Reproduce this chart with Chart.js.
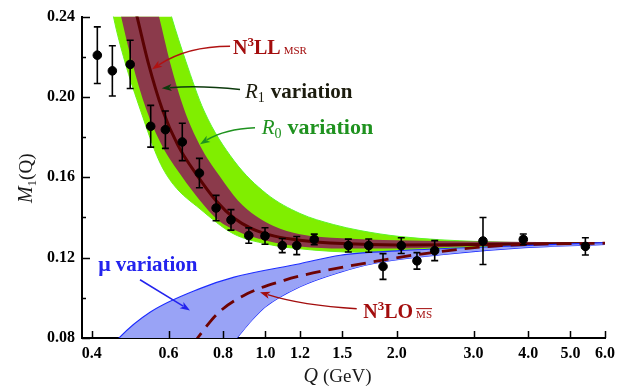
<!DOCTYPE html>
<html lang="en">
<head>
<meta charset="UTF-8">
<title>M1(Q) moment</title>
<script src="https://cdn.jsdelivr.net/npm/chart.js"></script>
<style>
  body { margin: 0; background: #fff; }
  #wrap { width: 619px; height: 392px; }
</style>
</head>
<body>
<div id="wrap"><canvas id="momentChart" width="619" height="392"></canvas></div>
<script>
// measured first moment, Q in GeV
const qData = [0.412, 0.446, 0.490, 0.546, 0.590, 0.645, 0.706, 0.771, 0.834, 0.916, 0.998, 1.093,
               1.180, 1.294, 1.549, 1.725, 1.860, 2.048, 2.225, 2.443, 3.152, 3.899, 5.41];
const mData = [0.2208, 0.2130, 0.2162, 0.1854, 0.1837, 0.1776, 0.1621, 0.1447, 0.1388, 0.1310, 0.1308, 0.1260,
               0.1260, 0.1291, 0.1260, 0.1260, 0.1156, 0.1260, 0.1184, 0.1235, 0.1283, 0.1291, 0.1256];
const mErr  = [0.0141, 0.0125, 0.0120, 0.0104, 0.0093, 0.0093, 0.0073, 0.0063, 0.0051, 0.0038, 0.0041, 0.0035,
               0.0045, 0.0026, 0.0032, 0.0033, 0.0064, 0.0039, 0.0041, 0.0050, 0.0117, 0.0027, 0.0043];

// R0 variation band (green)
const qR0Hi = [0.42, 0.50, 0.55, 0.6093, 0.6571, 0.7237, 0.8479, 1.007, 1.20, 1.431, 1.648, 2.035, 3.10, 6.0];
const mR0Hi = [0.380, 0.310, 0.275, 0.240, 0.2178, 0.193, 0.1682, 0.1517, 0.142, 0.1365, 0.1335, 0.1305, 0.128, 0.1272];
const qR0Lo = [0.42, 0.4486, 0.4761, 0.5181, 0.5707, 0.615, 0.708, 0.843, 1.007, 1.20, 1.648, 2.261, 3.10, 6.0];
const mR0Lo = [0.275, 0.240, 0.2178, 0.193, 0.1682, 0.1565, 0.1443, 0.132, 0.1268, 0.1244, 0.1227, 0.1235, 0.125, 0.1268];

// R1 variation band (N3LL MSR)
const qR1Hi = [0.42, 0.45, 0.51, 0.5705, 0.605, 0.651, 0.7075, 0.786, 0.865, 0.955, 1.044, 1.20, 1.50, 2.0, 3.0, 6.0];
const mR1Hi = [0.36, 0.33, 0.28, 0.240, 0.217, 0.194, 0.176, 0.1605, 0.1485, 0.1405, 0.1358, 0.1317, 0.1297, 0.1287, 0.128, 0.1276];
const qR1Lo = [0.42, 0.467, 0.4954, 0.533, 0.579, 0.643, 0.708, 0.781, 0.855, 1.0, 1.2, 1.5, 2.0, 3.0, 6.0];
const mR1Lo = [0.285, 0.240, 0.217, 0.194, 0.176, 0.1605, 0.1485, 0.1385, 0.1335, 0.1285, 0.1255, 0.1245, 0.1245, 0.1258, 0.1266];

// N3LL MSR central curve
const qMsr = [0.42, 0.508, 0.539, 0.58, 0.63, 0.70, 0.77, 0.85, 0.93, 1.05, 1.20, 1.50, 2.0, 3.0, 6.0];
const mMsr = [0.31, 0.240, 0.217, 0.194, 0.176, 0.1605, 0.1485, 0.1395, 0.1345, 0.1307, 0.1287, 0.1270, 0.1263, 0.1266, 0.1271];

// mu variation band (blue)
const qMuHi = [0.43, 0.462, 0.544, 0.71, 0.848, 1.20, 1.485, 2.035, 3.10, 6.0];
const mMuHi = [0.0715, 0.08, 0.0928, 0.1047, 0.1103, 0.117, 0.1212, 0.1235, 0.1252, 0.1275];
const qMuLo = [0.43, 0.65, 0.86, 0.928, 1.0, 1.20, 1.485, 1.76, 2.526, 3.92, 6.0];
const mMuLo = [0.0, 0.05, 0.08, 0.0885, 0.0955, 0.1055, 0.1128, 0.117, 0.1215, 0.125, 0.1266];

// N3LO MSbar curve (dashed)
const qMsbar = [0.68, 0.699, 0.777, 0.91, 1.104, 1.206, 1.84, 2.437, 3.47, 6.0];
const mMsbar = [0.0765, 0.08, 0.0922, 0.1021, 0.1087, 0.111, 0.1186, 0.1227, 0.126, 0.1272];

const xTicks = [0.4, 0.6, 0.8, 1.0, 1.2, 1.5, 2.0, 3.0, 4.0, 5.0, 6.0];

const serif = "'Liberation Serif', 'DejaVu Serif', serif";
const pts = (qs, ms) => qs.map((q, i) => ({ x: q, y: ms[i] }));

function curve(label, qs, ms, extra) {
    return Object.assign({
        label: label,
        data: pts(qs, ms),
        showLine: true,
        pointRadius: 0,
        borderWidth: 0,
        borderColor: 'rgba(0,0,0,0)',
        cubicInterpolationMode: 'monotone',
        fill: false
    }, extra);
}

// error bars under the data points
const errorBars = {
    id: 'errorBars',
    beforeDatasetDraw(chart, args) {
        if (args.index !== 0) return;
        const { ctx, scales: { x, y } } = chart;
        ctx.save();
        ctx.strokeStyle = '#000';
        ctx.lineWidth = 1.6;
        ctx.beginPath();
        qData.forEach((q, i) => {
            const px = x.getPixelForValue(q);
            const top = y.getPixelForValue(mData[i] + mErr[i]);
            const bot = y.getPixelForValue(mData[i] - mErr[i]);
            ctx.moveTo(px, top); ctx.lineTo(px, bot);
            ctx.moveTo(px - 3.5, top); ctx.lineTo(px + 3.5, top);
            ctx.moveTo(px - 3.5, bot); ctx.lineTo(px + 3.5, bot);
        });
        ctx.stroke();
        ctx.restore();
    }
};

// tick marks pointing into the plot
const inwardTicks = {
    id: 'inwardTicks',
    afterDraw(chart) {
        const { ctx, chartArea: a, scales: { x, y } } = chart;
        ctx.save();
        ctx.strokeStyle = '#000';
        ctx.lineWidth = 1.5;
        ctx.beginPath();
        y.ticks.forEach(t => {
            const py = Math.round(y.getPixelForValue(t.value)) + 0.5;
            const len = Math.round(t.value * 100) % 4 === 0 ? 8 : 4;
            ctx.moveTo(a.left, py); ctx.lineTo(a.left + len, py);
        });
        x.ticks.forEach(t => {
            const px = Math.round(x.getPixelForValue(t.value)) + 0.5;
            ctx.moveTo(px, a.bottom); ctx.lineTo(px, a.bottom - 7);
        });
        ctx.stroke();
        ctx.restore();
    }
};

function drawRuns(ctx, x, y, runs) {
    runs.forEach(r => {
        ctx.font = r.font;
        const dy = r.dy || 0;
        ctx.fillText(r.text, x, y + dy);
        const w = ctx.measureText(r.text).width;
        if (r.bar) ctx.fillRect(x, y + dy - r.bar, w, 1);
        x += w + (r.gap || 0);
    });
}

function runsWidth(ctx, runs) {
    let w = 0;
    runs.forEach(r => { ctx.font = r.font; w += ctx.measureText(r.text).width + (r.gap || 0); });
    return w;
}

// labels and arrows, anchored in data coordinates (Q, M1)
const notes = [
    { at: [0.843, 0.2215], color: '#a30d0d', runs: [
        { text: 'N', font: `bold 20px ${serif}` },
        { text: '3', font: `bold 13px ${serif}`, dy: -8 },
        { text: 'LL', font: `bold 20px ${serif}`, gap: 3 },
        { text: 'MSR', font: `11px ${serif}` }] },
    { at: [0.898, 0.1997], color: '#1c1c0e', runs: [
        { text: 'R', font: `italic 21px ${serif}` },
        { text: '1', font: `14px ${serif}`, dy: 4, gap: 6 },
        { text: 'variation', font: `bold 21px ${serif}` }] },
    { at: [0.981, 0.1816], color: '#1f921f', runs: [
        { text: 'R', font: `italic 21px ${serif}` },
        { text: '0', font: `14px ${serif}`, dy: 4, gap: 6 },
        { text: 'variation', font: `bold 22px ${serif}` }] },
    { at: [0.4142, 0.1136], color: '#2323ee', runs: [
        { text: '\u03bc', font: `bold 22px ${serif}`, gap: 5 },
        { text: 'variation', font: `bold 21px ${serif}` }] },
    { at: [1.676, 0.0899], color: '#a30d0d', runs: [
        { text: 'N', font: `bold 20px ${serif}` },
        { text: '3', font: `bold 13px ${serif}`, dy: -8 },
        { text: 'LO', font: `bold 20px ${serif}`, gap: 3 },
        { text: 'MS', font: `11px ${serif}`, bar: 10 }] }
];

const arrows = [
    { color: '#b01212', from: [0.830, 0.2253], ctrl: [0.661, 0.2253], to: [0.550, 0.2138] },
    { color: '#0d3a0d', from: [0.8747, 0.2037], ctrl: [0.708, 0.2059], to: [0.5787, 0.2043] },
    { color: '#1f921f', from: [0.9467, 0.1847], ctrl: [0.808, 0.1841], to: [0.7082, 0.1765] },
    { color: '#2323ee', from: [0.5161, 0.1090], ctrl: null, to: [0.6719, 0.09375] },
    { color: '#a30d0d', from: [1.619, 0.0946], ctrl: [1.213, 0.0962], to: [0.972, 0.1028] }
];

const annotations = {
    id: 'annotations',
    afterDraw(chart) {
        const { ctx, chartArea: a, scales: { x, y } } = chart;
        const P = p => [x.getPixelForValue(p[0]), y.getPixelForValue(p[1])];
        ctx.save();
        ctx.textBaseline = 'alphabetic';

        arrows.forEach(ar => {
            const f = P(ar.from), t = P(ar.to), c = ar.ctrl ? P(ar.ctrl) : f;
            ctx.strokeStyle = ar.color;
            ctx.fillStyle = ar.color;
            ctx.lineWidth = 1.5;
            const ang = Math.atan2(t[1] - c[1], t[0] - c[0]);
            const hl = 10, hw = 3.6;
            const bx = t[0] - hl * 0.8 * Math.cos(ang), by = t[1] - hl * 0.8 * Math.sin(ang);
            ctx.beginPath();
            ctx.moveTo(f[0], f[1]);
            if (ar.ctrl) ctx.quadraticCurveTo(c[0], c[1], bx, by);
            else ctx.lineTo(bx, by);
            ctx.stroke();
            ctx.beginPath();
            ctx.moveTo(t[0], t[1]);
            ctx.lineTo(t[0] - hl * Math.cos(ang) + hw * Math.sin(ang), t[1] - hl * Math.sin(ang) - hw * Math.cos(ang));
            ctx.lineTo(t[0] - hl * 0.75 * Math.cos(ang), t[1] - hl * 0.75 * Math.sin(ang));
            ctx.lineTo(t[0] - hl * Math.cos(ang) - hw * Math.sin(ang), t[1] - hl * Math.sin(ang) + hw * Math.cos(ang));
            ctx.closePath();
            ctx.fill();
        });

        notes.forEach(n => {
            const p = P(n.at);
            ctx.fillStyle = n.color;
            drawRuns(ctx, p[0], p[1], n.runs);
        });

        // axis titles
        ctx.fillStyle = '#1a1a1a';
        const xTitle = [
            { text: 'Q', font: `italic 20px ${serif}`, gap: 5 },
            { text: '(GeV)', font: `19px ${serif}` }];
        drawRuns(ctx, (a.left + a.right) / 2 - 40, a.bottom + 43.5, xTitle);

        const yTitle = [
            { text: 'M', font: `italic 20px ${serif}` },
            { text: '1', font: `13px ${serif}`, dy: 4 },
            { text: '(Q)', font: `19px ${serif}` }];
        const w = runsWidth(ctx, yTitle);
        ctx.translate(a.left - 50, (a.top + a.bottom) / 2 + 1);
        ctx.rotate(-Math.PI / 2);
        drawRuns(ctx, -w / 2, 0, yTitle);
        ctx.restore();
    }
};

const tickFont = { family: serif, weight: 'bold', size: 16 };

new Chart(document.getElementById('momentChart'), {
    type: 'scatter',
    data: {
        datasets: [
            { label: 'data', data: pts(qData, mData), pointRadius: 4.3, pointBackgroundColor: '#000',
              pointBorderColor: '#000', showLine: false, order: 0 },
            curve('N3LO MSbar', qMsbar, mMsbar, { borderColor: '#6e0303', borderWidth: 2.8,
              borderDash: [15, 8], order: 1 }),
            curve('mu up', qMuHi, mMuHi, { borderColor: '#1c2cff', borderWidth: 1.1,
              fill: '+1', backgroundColor: '#99a3f6', order: 2 }),
            curve('mu down', qMuLo, mMuLo, { borderColor: '#1c2cff', borderWidth: 1.1, order: 2 }),
            curve('N3LL MSR', qMsr, mMsr, { borderColor: '#5a0202', borderWidth: 3, order: 3 }),
            curve('R1 up', qR1Hi, mR1Hi, { fill: '+1', backgroundColor: '#8b3a4b', order: 4 }),
            curve('R1 down', qR1Lo, mR1Lo, { order: 4 }),
            curve('R0 up', qR0Hi, mR0Hi, { borderColor: '#5cf52a', borderWidth: 1,
              fill: '+1', backgroundColor: '#80ee00', order: 5 }),
            curve('R0 down', qR0Lo, mR0Lo, { borderColor: '#5cf52a', borderWidth: 1, order: 5 })
        ]
    },
    options: {
        responsive: false,
        animation: false,
        layout: { padding: { top: 15, right: 14, left: 0, bottom: 0 } },
        plugins: { legend: { display: false }, tooltip: { enabled: false } },
        scales: {
            x: {
                type: 'logarithmic',
                min: 0.38,
                max: 6.0,
                z: 1,
                grid: { display: false, drawTicks: false },
                border: { display: true, color: '#000', width: 2 },
                afterBuildTicks: scale => { scale.ticks = xTicks.map(v => ({ value: v })); },
                afterFit: scale => { scale.height = 54; scale.paddingLeft = 0; scale.paddingRight = 0; },
                ticks: {
                    autoSkip: false, maxRotation: 0, padding: 6, color: '#000', font: tickFont,
                    callback: v => Number(v).toFixed(1)
                }
            },
            y: {
                min: 0.08,
                max: 0.24,
                z: 1,
                grid: { display: false, drawTicks: false },
                border: { display: true, color: '#000', width: 2 },
                afterFit: scale => { scale.width = 82; },
                ticks: {
                    stepSize: 0.01, padding: 7, color: '#000', font: tickFont,
                    callback: v => (Math.round(v * 100) % 4 === 0 ? v.toFixed(2) : '')
                }
            }
        }
    },
    plugins: [errorBars, inwardTicks, annotations]
});
</script>
</body>
</html>
